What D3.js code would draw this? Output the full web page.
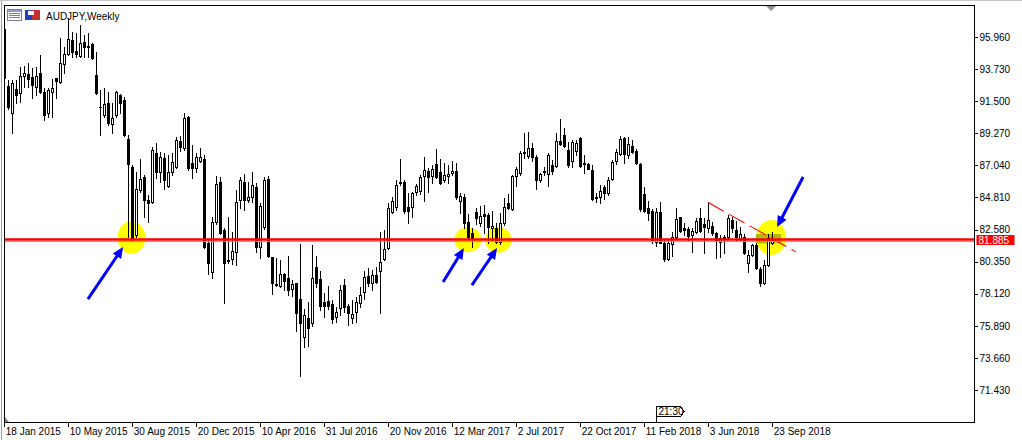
<!DOCTYPE html>
<html><head><meta charset="utf-8">
<script src="https://cdn.jsdelivr.net/npm/d3@7"></script>
<style>
body{margin:0;background:#fff;}
svg{display:block;font-family:"Liberation Sans",Arial,sans-serif;}
</style>
</head><body>
<svg id="c" width="1022" height="440"></svg>
<script>
// ---------- data ----------
const title = "AUDJPY,Weekly";
const dateLabels = ["18 Jan 2015","10 May 2015","30 Aug 2015","20 Dec 2015","10 Apr 2016","31 Jul 2016","20 Nov 2016","12 Mar 2017","2 Jul 2017","22 Oct 2017","11 Feb 2018","3 Jun 2018","23 Sep 2018"];
const dateLabelIdx = [0,16,32,48,64,80,96,112,128,144,160,176,192];
const yTicks = [95.960,93.730,91.500,89.270,87.040,84.810,82.580,80.350,78.120,75.890,73.660,71.430];

const opens = [96.51,92.55,90.65,92.32,92.04,93.25,93.38,93.15,92.51,93.43,92.16,90.70,92.16,93.08,92.85,94.08,94.75,95.75,95.00,94.62,
95.63,95.33,95.50,93.31,91.11,90.54,91.39,89.91,90.54,91.93,91.58,88.85,86.90,82.20,85.32,86.25,84.63,84.51,87.92,86.60,
87.57,85.60,86.60,86.95,88.75,88.22,90.42,87.18,86.83,87.36,87.46,81.66,79.65,83.08,85.86,82.54,80.46,80.51,81.04,84.63,
85.90,84.63,84.86,85.55,81.38,82.75,86.07,80.69,78.79,78.68,79.49,79.19,78.42,78.84,77.73,75.13,76.41,76.06,80.00,79.14,
77.56,77.61,77.40,76.48,77.10,78.72,77.26,76.41,76.82,77.45,78.21,79.37,78.88,79.42,79.72,80.51,81.27,83.77,84.12,85.90,
85.90,84.17,84.12,85.21,85.28,86.30,86.67,86.30,87.13,86.60,86.02,86.32,86.48,86.67,84.58,84.81,83.12,82.36,83.82,83.05,
83.66,83.59,82.66,82.66,81.73,83.01,84.40,83.98,86.30,86.48,87.87,87.69,88.22,87.59,86.02,86.67,86.44,87.06,86.99,88.75,
89.15,88.10,87.36,88.06,88.91,87.18,87.13,86.71,84.86,84.86,85.51,85.14,86.11,87.34,87.83,88.91,87.76,88.38,88.06,87.13,
85.05,84.05,83.89,81.73,83.77,81.66,80.53,81.57,82.03,83.43,82.66,82.59,82.20,82.38,83.35,82.96,82.66,82.84,82.31,81.73,
81.97,82.03,83.24,82.54,81.94,82.03,80.23,80.81,81.50,79.81,78.84,80.11,81.62];
const highs = [96.70,92.97,92.97,92.97,93.89,93.94,94.13,93.78,93.89,94.71,92.39,92.39,93.01,93.08,95.86,95.28,97.25,96.32,96.23,96.79,
96.10,96.21,95.55,94.90,92.27,92.39,92.16,91.34,92.23,92.00,91.81,89.15,87.06,86.60,87.46,86.37,84.98,88.33,88.57,87.99,
87.92,87.76,87.87,88.99,89.08,90.65,90.47,88.45,87.87,88.22,87.76,81.85,83.47,86.30,86.21,82.66,83.43,82.43,85.32,86.25,
86.44,85.90,86.60,85.79,84.42,86.23,86.30,80.69,80.58,80.46,79.58,80.74,79.07,78.88,81.57,77.03,77.56,81.50,80.76,79.72,
78.14,78.65,77.68,77.17,78.72,79.12,77.40,77.68,77.91,78.61,79.70,79.88,79.76,80.00,82.43,82.54,84.40,84.81,86.02,87.46,
86.02,85.09,85.21,85.74,86.37,87.59,86.83,87.06,88.15,87.46,87.18,87.06,87.36,87.18,85.09,85.05,83.66,82.66,84.05,84.21,
84.28,83.70,83.89,83.05,83.70,84.74,85.05,86.37,86.95,88.06,89.31,89.38,88.61,87.76,86.53,86.95,87.92,87.41,89.26,90.26,
89.61,88.68,88.80,88.80,89.03,87.76,87.18,87.06,85.09,85.67,85.67,86.25,87.41,88.15,89.08,89.03,89.03,88.80,88.15,87.18,
85.51,84.56,83.98,84.05,84.51,81.85,81.85,82.43,84.05,83.47,83.05,82.78,82.66,83.35,84.05,83.35,84.51,83.12,82.43,82.20,
82.20,83.59,83.47,83.19,82.78,82.27,81.15,81.57,81.62,80.00,80.46,82.27,82.43];
const lows = [92.90,90.93,89.31,91.35,91.46,92.51,92.51,91.69,91.93,92.04,90.19,90.42,90.42,91.69,92.78,93.43,94.71,94.59,94.57,94.55,
94.59,94.59,94.40,92.00,89.15,90.42,89.84,89.26,90.42,90.65,89.08,82.08,81.85,82.08,85.21,83.47,83.12,84.44,86.15,85.89,
85.37,85.55,86.37,86.83,88.03,88.10,86.71,86.15,86.60,87.29,81.30,79.48,79.19,82.96,82.27,77.49,80.27,80.16,80.11,84.05,
83.94,84.51,84.51,81.00,80.60,82.60,80.69,78.10,78.68,78.61,78.38,78.03,77.96,75.55,72.40,74.44,74.48,75.87,78.61,76.98,
76.48,77.03,76.06,76.17,76.64,76.87,75.94,76.10,76.17,77.22,77.73,78.65,78.38,78.88,76.75,80.46,81.20,83.70,83.93,85.67,
83.75,83.05,83.47,84.98,85.05,84.58,85.16,85.79,86.14,85.74,85.90,85.79,86.37,84.68,83.70,82.66,81.97,81.39,82.96,82.82,
82.36,81.62,81.85,81.62,81.57,82.89,83.98,83.93,85.60,86.37,87.52,87.52,87.36,85.37,85.90,86.37,85.60,86.44,86.95,88.45,
88.34,86.95,86.95,87.76,86.95,86.48,86.76,84.63,84.51,84.40,84.68,84.98,86.02,87.13,87.76,87.18,87.52,87.87,87.13,83.89,
83.82,83.24,81.67,81.43,81.62,80.41,80.46,80.76,81.97,82.43,82.20,81.85,81.04,82.31,82.43,80.97,82.43,82.20,80.58,80.65,
80.92,81.97,82.43,81.80,81.85,80.88,79.65,80.74,79.81,78.65,78.77,80.07,81.57];
const closes = [93.11,91.07,92.74,91.93,93.25,93.43,93.01,92.62,93.25,92.16,90.54,92.27,92.39,92.92,94.13,94.80,95.80,94.94,94.77,95.56,
95.24,95.24,94.50,92.04,91.09,91.30,90.00,90.31,92.16,91.39,89.15,87.13,81.97,85.37,86.07,84.63,84.44,88.10,86.60,87.64,
86.02,86.60,87.29,88.80,88.29,90.31,86.83,86.83,87.64,87.64,81.38,80.23,83.12,85.74,82.31,80.27,80.37,81.11,84.51,86.02,
84.63,84.86,85.67,81.38,84.21,86.02,80.74,78.84,78.72,79.49,79.02,78.38,78.79,76.75,76.06,76.64,75.76,79.19,78.84,77.29,
77.29,77.29,76.34,76.82,78.38,77.17,76.80,76.71,77.52,78.03,79.26,78.88,79.42,78.95,80.30,81.20,84.05,84.58,85.67,85.79,
83.89,83.89,85.09,85.60,86.25,86.71,86.20,86.76,86.20,85.79,86.37,86.44,86.64,84.81,84.91,83.05,82.08,82.01,83.35,83.52,
83.52,82.78,82.82,81.73,83.05,84.12,84.05,86.30,86.76,87.92,87.99,88.22,87.59,86.02,86.44,86.60,87.76,86.67,88.75,88.52,
88.38,87.06,88.64,88.57,87.01,87.13,86.76,84.68,84.74,85.25,85.14,86.02,87.29,87.99,88.84,87.83,88.52,87.99,87.18,83.98,
83.89,83.75,81.85,83.80,81.66,80.53,81.62,82.08,83.31,82.50,82.54,82.15,82.50,83.19,82.50,82.78,83.24,82.31,81.85,81.97,
82.08,83.35,82.66,82.08,82.27,80.93,80.81,81.50,79.88,78.84,80.11,82.01,81.78];

// annotations, in (bar index, price) coordinates
const levelPrice = 81.885;
const circleIdx   = [31.8, 115.9, 123.5, 191.7];
const circlePrice = [82.02, 81.88, 81.85, 82.02];
const circleRx = [14, 13.5, 13.3, 15];
const circleRy = [16.5, 12.5, 12.8, 17.5];
const arrowFromIdx = [20.9, 109.7, 116.9, 199.7];
const arrowFromPrice = [77.75, 78.93, 78.72, 86.23];
const arrowToIdx = [29.7, 114.9, 123.2, 193.2];
const arrowToPrice = [81.36, 81.29, 81.29, 82.75];
const trendIdx = [175.9, 197.9];
const trendPrice = [84.47, 81.03];
const boxIdx = [187.9, 194.2];
const boxPrice = [82.27, 81.62];
const timeMarkIdx = 162.9;
const timeMarkText = "21:30";

// ---------- layout ----------
const svg = d3.select("#c");
const L = 4.5, R = 974.5, T = 5.5, B = 422.5;
const x = d3.scaleLinear().domain([0, 242.5]).range([4.3, 974.3]);
const y = d3.scaleLinear().domain([69.21, 98.18]).range([422, 5]);
const bars = d3.range(opens.length).map(i => ({i, o:opens[i], h:highs[i], l:lows[i], c:closes[i]}));

// window frame lines
svg.append("line").attr("x1",1.5).attr("x2",1.5).attr("y1",0).attr("y2",440).attr("stroke","#a0a0a0");
svg.append("line").attr("x1",0).attr("x2",1022).attr("y1",0.5).attr("y2",0.5).attr("stroke","#c8c8c8");

svg.append("defs").append("clipPath").attr("id","plot")
  .append("rect").attr("x",L).attr("y",T).attr("width",R-L).attr("height",B-T);
const g = svg.append("g").attr("clip-path","url(#plot)");

// yellow highlight circles
g.selectAll("ellipse.hl").data(circleIdx).join("ellipse")
  .attr("cx",(d,k)=>x(d)).attr("cy",(d,k)=>y(circlePrice[k]))
  .attr("rx",(d,k)=>circleRx[k]).attr("ry",(d,k)=>circleRy[k])
  .attr("fill","#ffff00");
g.append("rect").attr("x",x(boxIdx[0])).attr("y",y(boxPrice[0]))
  .attr("width",x(boxIdx[1])-x(boxIdx[0])).attr("height",y(boxPrice[1])-y(boxPrice[0]))
  .attr("fill","#b4b80c");

// candles
const cg = g.append("g").attr("shape-rendering","crispEdges");
bars.forEach(b=>{
  const cx = Math.round(x(b.i));
  cg.append("line").attr("x1",cx+0.5).attr("x2",cx+0.5)
    .attr("y1",Math.round(y(b.h))).attr("y2",Math.round(y(b.l))+1).attr("stroke","#000");
  const top = Math.round(y(Math.max(b.o,b.c))), bot = Math.round(y(Math.min(b.o,b.c)));
  if (b.c < b.o || bot-top < 2) {
    cg.append("rect").attr("x",cx-1).attr("y",top).attr("width",3).attr("height",Math.max(1,bot-top+1)).attr("fill","#000");
  } else {
    cg.append("rect").attr("x",cx-0.5).attr("y",top+0.5).attr("width",2).attr("height",bot-top)
      .attr("fill","#fff").attr("stroke","#000");
  }
});

// trend line (red dashed)
g.append("line").attr("x1",x(trendIdx[0])).attr("y1",y(trendPrice[0]))
  .attr("x2",x(trendIdx[1])).attr("y2",y(trendPrice[1]))
  .attr("stroke","#ff0000").attr("stroke-width",1.1).attr("stroke-dasharray","18,6");

// horizontal level + bid line
const lastClose = closes[closes.length-1];
g.append("line").attr("x1",L).attr("x2",R).attr("y1",y(lastClose)+0.5).attr("y2",y(lastClose)+0.5)
  .attr("stroke","#a0a0a0").attr("stroke-width",1);
g.append("line").attr("x1",L).attr("x2",R).attr("y1",y(levelPrice)).attr("y2",y(levelPrice))
  .attr("stroke","#ff0000").attr("stroke-width",2.4);

// arrows
arrowFromIdx.forEach((d,k)=>{
  const x1=x(d), y1=y(arrowFromPrice[k]), x2=x(arrowToIdx[k]), y2=y(arrowToPrice[k]);
  const a=Math.atan2(y2-y1,x2-x1), hl=11, hw=5;
  g.append("line").attr("x1",x1).attr("y1",y1).attr("x2",x2-Math.cos(a)*8).attr("y2",y2-Math.sin(a)*8)
    .attr("stroke","#0000ff").attr("stroke-width",3);
  const bx=x2-Math.cos(a)*hl, by=y2-Math.sin(a)*hl;
  g.append("polygon").attr("points",[[x2,y2],[bx+Math.sin(a)*hw,by-Math.cos(a)*hw],[bx-Math.sin(a)*hw,by+Math.cos(a)*hw]].map(p=>p.join(",")).join(" "))
    .attr("fill","#0000ff");
});

// frame
svg.append("rect").attr("x",L).attr("y",T).attr("width",R-L).attr("height",B-T)
  .attr("fill","none").attr("stroke","#000").attr("shape-rendering","crispEdges");

// y axis
const yAxis = d3.axisRight(y).tickValues(yTicks).tickSize(3).tickPadding(2).tickFormat(d3.format(".3f"));
const ya = svg.append("g").attr("transform",`translate(${R},0)`).call(yAxis);
ya.select(".domain").remove();
ya.selectAll("line").attr("shape-rendering","crispEdges").attr("stroke","#000");
ya.selectAll("text").attr("font-size",10).attr("font-family","Liberation Sans, Arial, sans-serif").attr("fill","#000");

// level price label
const ly = y(levelPrice);
svg.append("rect").attr("x",R+2).attr("y",Math.round(ly)-5).attr("width",38).attr("height",10).attr("fill","#ff0000");
svg.append("text").attr("x",R+4).attr("y",Math.round(ly)+4).attr("font-size",10).attr("fill","#fff").text(d3.format(".3f")(levelPrice));

// x axis
const xAxis = d3.axisBottom(x).tickValues(dateLabelIdx).tickSize(4).tickFormat((d,k)=>dateLabels[k]);
const xa = svg.append("g").attr("transform",`translate(0,${B})`).call(xAxis);
xa.select(".domain").remove();
xa.selectAll("line").attr("shape-rendering","crispEdges").attr("stroke","#000");
xa.selectAll("text").attr("font-size",10).attr("font-family","Liberation Sans, Arial, sans-serif")
  .attr("text-anchor","start").attr("dx",1).attr("dy","0.5em").attr("fill","#000");

// time marker
const tx = Math.round(x(timeMarkIdx))+0.5;
svg.append("path").attr("d",`M${tx},${B} V406.5 H${tx+24} L${tx+27.5},411.5 L${tx+24},416.5 H${tx}`)
  .attr("fill","#fff").attr("stroke","#000").attr("shape-rendering","crispEdges");
svg.append("text").attr("x",tx+2).attr("y",415).attr("font-size",10).text(timeMarkText);

// shift markers
const sx = x(191.7);
svg.append("polygon").attr("points",`${sx-5},6 ${sx+5},6 ${sx},11`).attr("fill","#909090");
svg.append("polygon").attr("points",`5,417 5,422 9,422`).attr("fill","#7a8a99");

// title + icons
svg.append("rect").attr("x",7.5).attr("y",9.5).attr("width",14).attr("height",11).attr("fill","#fff").attr("stroke","#7f7f9f");
svg.append("rect").attr("x",8).attr("y",10).attr("width",13).attr("height",2).attr("fill","#8da0c8");
[13,15,17].forEach(yy=>svg.append("line").attr("x1",9).attr("x2",20).attr("y1",yy+0.5).attr("y2",yy+0.5).attr("stroke","#d06060"));
svg.append("rect").attr("x",25).attr("y",10).attr("width",7).attr("height",10).attr("fill","#2040c0");
svg.append("rect").attr("x",32).attr("y",10).attr("width",8).attr("height",10).attr("fill","#c03030");
svg.append("rect").attr("x",28).attr("y",11).attr("width",6).attr("height",4).attr("fill","#fff");
svg.append("text").attr("x",46).attr("y",20).attr("font-size",10).text(title);
</script>
</body></html>
